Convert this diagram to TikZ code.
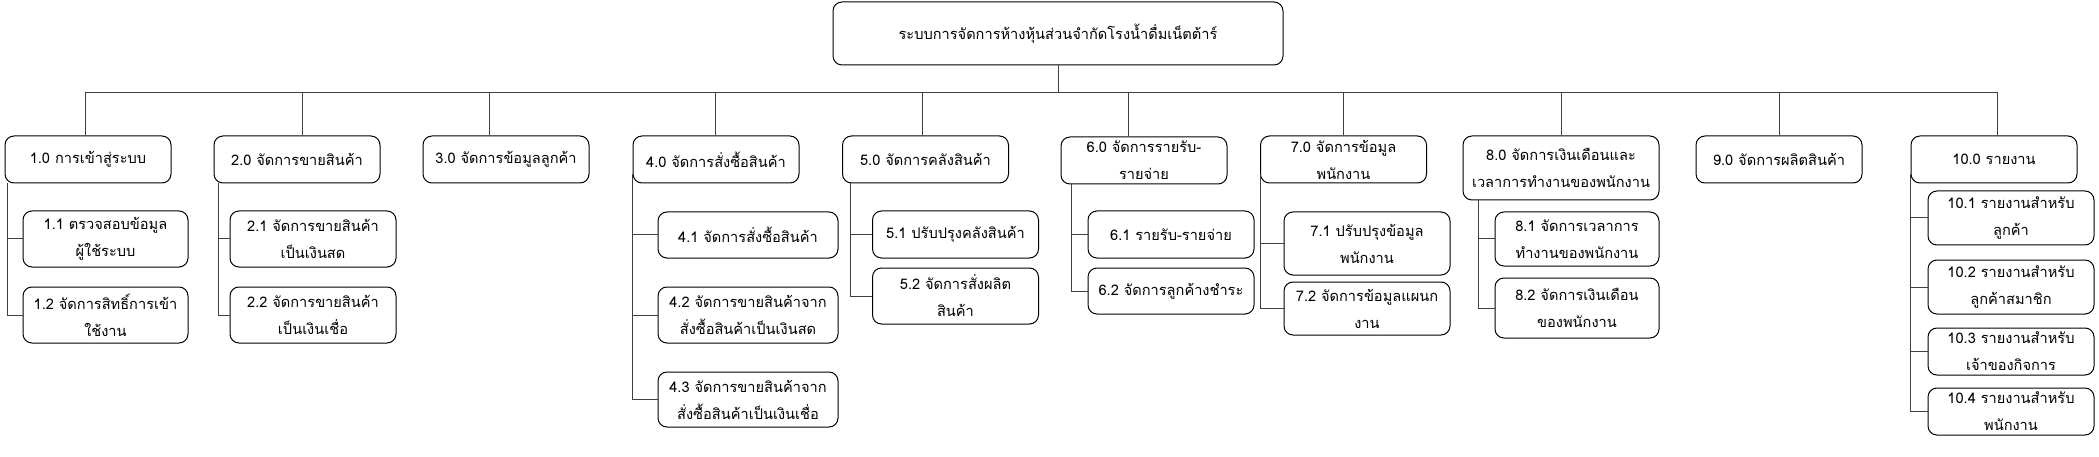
\documentclass[tikz,border=0pt]{standalone}
\usepackage{fontspec}
\newfontfamily\thaifont[Script=Thai]{Loma}
\tikzset{
  box/.style={draw, rounded corners=9pt, align=center, minimum width=166pt,
    minimum height=47pt, inner sep=1pt, font=\thaifont\fontsize{14.6}{27}\selectfont},
  link/.style={draw=black!75, line width=1pt}
}

\begin{document}
\begin{tikzpicture}[x=1pt,y=-1pt,line width=1pt]
    \useasboundingbox (0,0) rectangle (2099,457);
    \coordinate (bar) at (0,93);

    % system
    \node[box, minimum width=450pt, minimum height=63pt] (sys) at (1058,33.5) {ระบบการจัดการห้างหุ้นส่วนจำกัดโรงน้ำดื่มเน็ตต้าร์};

    % main processes
    \node[box] (m1) at (88,159.5) {1.0 การเข้าสู่ระบบ};
    \node[box] (m2) at (297,159.5) {2.0 จัดการขายสินค้า};
    \node[box] (m3) at (506,159.5) {3.0 จัดการข้อมูลลูกค้า};
    \node[box] (m4) at (716,159.5) {4.0 จัดการสั่งซื้อสินค้า};
    \node[box] (m5) at (925.5,159.5) {5.0 จัดการคลังสินค้า};
    \node[box, inner sep=0pt] (m6) at (1144,160.5) {6.0 จัดการรายรับ-\\รายจ่าย};
    \node[box, inner sep=0pt] (m7) at (1343.5,159.5) {7.0 จัดการข้อมูล\\พนักงาน};
    \node[box, minimum width=196pt, minimum height=64pt] (m8) at (1561,168) {8.0 จัดการเงินเดือนและ\\เวลาการทำงานของพนักงาน};
    \node[box] (m9) at (1779,159.5) {9.0 จัดการผลิตสินค้า};
    \node[box] (m10) at (1994,159.5) {10.0 รายงาน};

    \foreach \m/\dx in {m1/-3,m2/5,m3/-17,m4/-1,m5/-3.5,m6/-16,m7/0,m8/0,m9/0,m10/3}
        \draw[link] (sys.south) -- (sys.south |- bar) -| ([xshift=\dx pt]\m.north);

    % sub processes
    \node[box, minimum width=165pt, minimum height=56pt] (m1a) at (105.5,239) {1.1 ตรวจสอบข้อมูล\\ผู้ใช้ระบบ};
    \node[box, minimum width=165pt, minimum height=56pt] (m1b) at (105.5,315) {1.2 จัดการสิทธิ์การเข้า\\ใช้งาน};
    \node[box, minimum height=56pt] (m2a) at (313,239) {2.1 จัดการขายสินค้า\\เป็นเงินสด};
    \node[box, minimum height=56pt] (m2b) at (313,315) {2.2 จัดการขายสินค้า\\เป็นเงินเชื่อ};

    \node[box, minimum width=180pt, minimum height=46pt] (m4a) at (748,235) {4.1 จัดการสั่งซื้อสินค้า};
    \node[box, minimum width=180pt, minimum height=56pt] (m4b) at (748,315) {4.2 จัดการขายสินค้าจาก\\สั่งซื้อสินค้าเป็นเงินสด};
    \node[box, minimum width=180pt, minimum height=55pt] (m4c) at (748,399.5) {4.3 จัดการขายสินค้าจาก\\สั่งซื้อสินค้าเป็นเงินเชื่อ};

    \node[box] (m5a) at (955.5,234.5) {5.1 ปรับปรุงคลังสินค้า};
    \node[box, minimum height=56pt] (m5b) at (955.5,296) {5.2 จัดการสั่งผลิต\\สินค้า};

    \node[box] (m6a) at (1171,234.5) {6.1 รายรับ-รายจ่าย};
    \node[box, minimum height=46pt] (m6b) at (1171,291) {6.2 จัดการลูกค้างชำระ};

    \node[box, minimum height=63pt] (m7a) at (1367,243.5) {7.1 ปรับปรุงข้อมูล\\พนักงาน};
    \node[box, minimum height=53pt] (m7b) at (1367,308.5) {7.2 จัดการข้อมูลแผนก\\งาน};

    \node[box, minimum width=164pt, minimum height=54pt] (m8a) at (1577,239) {8.1 จัดการเวลาการ\\ทำงานของพนักงาน};
    \node[box, minimum width=164pt, minimum height=60pt] (m8b) at (1577,308) {8.2 จัดการเงินเดือน\\ของพนักงาน};

    \node[box, minimum height=54pt] (m10a) at (2011,218) {10.1 รายงานสำหรับ\\ลูกค้า};
    \node[box, minimum height=54pt] (m10b) at (2011,287) {10.2 รายงานสำหรับ\\ลูกค้าสมาชิก};
    \node[box, inner sep=0pt] (m10c) at (2011,351.5) {10.3 รายงานสำหรับ\\เจ้าของกิจการ};
    \node[box, inner sep=0pt] (m10d) at (2011,411.5) {10.4 รายงานสำหรับ\\พนักงาน};

    % trunks
    \draw[link] ([xshift=3pt]m1.south west) |- (m1a.west);
    \draw[link] ([xshift=3pt]m1.south west) |- (m1b.west);
    \draw[link] ([xshift=5pt]m2.south west) |- (m2a.west);
    \draw[link] ([xshift=5pt]m2.south west) |- (m2b.west);
    \draw[link] ([yshift=9pt]m4.south west) |- (m4a.west);
    \draw[link] ([yshift=9pt]m4.south west) |- (m4b.west);
    \draw[link] ([yshift=9pt]m4.south west) |- (m4c.west);
    \draw[link] ([xshift=8pt]m5.south west) |- (m5a.west);
    \draw[link] ([xshift=8pt]m5.south west) |- (m5b.west);
    \draw[link] ([xshift=11pt]m6.south west) |- (m6a.west);
    \draw[link] ([xshift=11pt]m6.south west) |- (m6b.west);
    \draw[link] ([yshift=9pt]m7.south west) |- (m7a.west);
    \draw[link] ([yshift=9pt]m7.south west) |- (m7b.west);
    \draw[link] ([xshift=16pt]m8.south west) |- (m8a.west);
    \draw[link] ([xshift=16pt]m8.south west) |- (m8b.west);
    \draw[link] ([yshift=9pt]m10.south west) |- (m10a.west);
    \draw[link] ([yshift=9pt]m10.south west) |- (m10b.west);
    \draw[link] ([yshift=9pt]m10.south west) |- (m10c.west);
    \draw[link] ([yshift=9pt]m10.south west) |- (m10d.west);
\end{tikzpicture}
\end{document}
